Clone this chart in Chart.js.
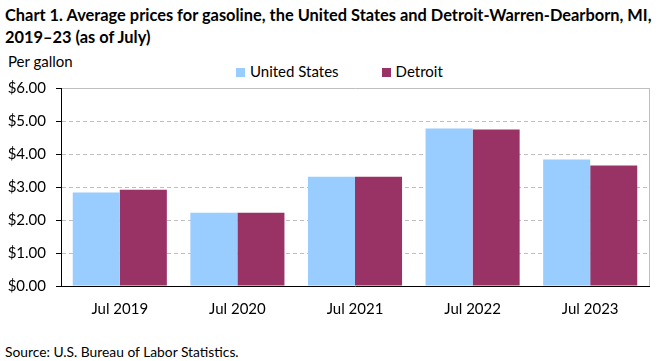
<!DOCTYPE html>
<html>
<head>
<meta charset="utf-8">
<script src="https://cdn.jsdelivr.net/npm/chart.js@4.4.1/dist/chart.umd.min.js"></script>
<style>
  body { margin: 0; background: #fff; font-family: Lato, "Liberation Sans", sans-serif; }
  #wrap { position: relative; width: 661px; height: 361px; overflow: hidden; }
  .title { position: absolute; left: 5px; top: 4px; font-weight: bold; font-size: 16.4px; line-height: 22px; color: #000; }
  .unit { position: absolute; left: 8px; top: 52px; font-size: 15px; color: #000; }
  .source { position: absolute; left: 5px; top: 343px; font-size: 13.8px; color: #000; }
  #box { position: absolute; left: 0; top: 50px; width: 661px; height: 290px; }
  #legend { position: absolute; left: 236px; top: 62px; font-size: 15px; color: #000; white-space: nowrap; }
  #legend span.item { display: inline-block; margin-right: 43px; }
  #legend span.sw { display: inline-block; width: 9px; height: 9px; margin-right: 5px; vertical-align: 0px; }
</style>
</head>
<body>
<div id="wrap">
  <div class="title">Chart 1. Average prices for gasoline, the United States and Detroit-Warren-Dearborn, MI,<br>2019–23 (as of July)</div>
  <div class="unit">Per gallon</div>
  <div id="legend"></div>
  <div id="box"><canvas id="gasChart"></canvas></div>
  <div class="source">Source: U.S. Bureau of Labor Statistics.</div>
</div>
<script>
const years = ['Jul 2019', 'Jul 2020', 'Jul 2021', 'Jul 2022', 'Jul 2023'];
const usPrices = [2.83, 2.22, 3.31, 4.77, 3.83];
const detroitPrices = [2.92, 2.22, 3.31, 4.74, 3.65];
const yTicks = [0, 1, 2, 3, 4, 5, 6];

const fontFamily = 'Lato, "Liberation Sans", sans-serif';

// right edge of the plot box
const plotBorder = {
    id: 'plotBorder',
    afterDraw(chart) {
        const { ctx, chartArea } = chart;
        ctx.save();
        ctx.strokeStyle = '#bfbfbf';
        ctx.lineWidth = 1;
        ctx.beginPath();
        ctx.moveTo(Math.round(chartArea.right) + 0.5, chartArea.top);
        ctx.lineTo(Math.round(chartArea.right) + 0.5, chartArea.bottom);
        ctx.stroke();
        ctx.restore();
    }
};

const ctx = document.getElementById('gasChart').getContext('2d');
const gasChart = new Chart(ctx, {
    type: 'bar',
    data: {
        labels: years,
        datasets: [
            { label: 'United States', data: usPrices, backgroundColor: '#99ccff', barPercentage: 1, categoryPercentage: 0.8 },
            { label: 'Detroit', data: detroitPrices, backgroundColor: '#993366', barPercentage: 1, categoryPercentage: 0.8 }
        ]
    },
    options: {
        animation: false,
        responsive: true,
        maintainAspectRatio: false,
        layout: { padding: { left: 0, right: 12, top: 38, bottom: 0 } },
        plugins: {
            legend: { display: false },
            tooltip: { enabled: false }
        },
        scales: {
            x: {
                grid: { display: false },
                border: { color: '#000', width: 1 },
                ticks: { color: '#000', padding: 6, font: { family: fontFamily, size: 15 } },
                afterFit: (s) => { s.height = 54; }
            },
            y: {
                min: 0, max: 6,
                afterBuildTicks: (s) => { s.ticks = yTicks.map(v => ({ value: v })); },
                afterFit: (s) => { s.width = 61; },
                grid: { color: '#bfbfbf', tickColor: '#000', tickLength: 5, tickWidth: 1 },
                border: { color: '#000', width: 1, dash: (c) => (c.tick && c.tick.value === 6 ? [] : [4, 3]) },
                ticks: {
                    color: '#000', padding: 10,
                    font: { family: fontFamily, size: 15 },
                    callback: (v) => '$' + Number(v).toFixed(2)
                }
            }
        }
    },
    plugins: [plotBorder]
});

// legend row, built from the chart's own datasets
document.getElementById('legend').innerHTML = gasChart.data.datasets.map(d =>
    `<span class="item"><span class="sw" style="background:${d.backgroundColor}"></span>${d.label}</span>`
).join('');
</script>
</body>
</html>
